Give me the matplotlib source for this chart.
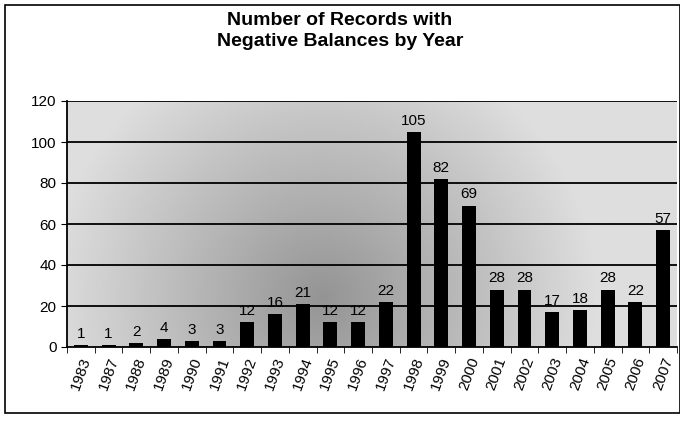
import matplotlib
matplotlib.use('Agg')
from matplotlib import pyplot as plt, patches
import numpy as np

plt.rcParams['font.family'] = ['Liberation Sans', 'DejaVu Sans']

years = ['1983', '1987', '1988', '1989', '1990', '1991', '1992', '1993', '1994', '1995', '1996',
         '1997', '1998', '1999', '2000', '2001', '2002', '2003', '2004', '2005', '2006', '2007']
counts = [1, 1, 2, 4, 3, 3, 12, 16, 21, 12, 12, 22, 105, 82, 69, 28, 28, 17, 18, 28, 22, 57]
yticks = [0, 20, 40, 60, 80, 100, 120]

fig = plt.figure(figsize=(6.8, 4.24), dpi=100)
fig.patch.set_facecolor('white')

# outer chart border
fig.add_artist(patches.Rectangle((5/680, 11/424), 675/680, 408/424, transform=fig.transFigure,
                                 fill=False, edgecolor='black', linewidth=1.2))

ax = fig.add_axes([67/680, 77/424, 610/680, 246/424])
x = np.arange(len(years))

# grey gradient background, darkest round the middle
gx, gy = np.meshgrid(np.linspace(0, 1, 300), np.linspace(0, 1, 150))
d = np.sqrt(((gx - 0.42) / 0.45) ** 2 + ((gy - 0.8) / 1.1) ** 2)
shade = 0.58 + 0.29 * np.clip(d, 0, 1)
ax.imshow(shade, cmap='gray', vmin=0, vmax=1, extent=(-0.5, len(years) - 0.5, 0, 120),
          aspect='auto', origin='upper', zorder=0)

for yv in yticks[1:]:
    ax.axhline(yv, color='black', linewidth=1.3, zorder=1)

ax.bar(x, counts, width=0.5, color='black', zorder=2)
for xi, c in zip(x, counts):
    ax.text(xi, c + 2, str(c), ha='center', va='bottom', fontsize=11, zorder=3)

ax.set_xlim(-0.5, len(years) - 0.5)
ax.set_ylim(0, 120)
ax.set_yticks(yticks)
ax.set_yticklabels([str(v) for v in yticks], fontsize=11)
ax.set_xticks(x)
ax.set_xticklabels(years, rotation=70, fontsize=11, ha='center', va='top')
ax.set_xticks(np.arange(-0.5, len(years), 1), minor=True)
ax.tick_params(axis='x', which='major', length=0, pad=6)
ax.tick_params(axis='x', which='minor', length=4, direction='out')
ax.tick_params(axis='y', length=4, direction='out')
ax.spines['top'].set_visible(False)
ax.spines['right'].set_visible(False)
ax.spines['left'].set_linewidth(1.3)
ax.spines['bottom'].set_linewidth(1.3)

fig.text(0.5, 0.972, 'Number of Records with\nNegative Balances by Year', ha='center', va='top',
         fontsize=14, fontweight='bold', linespacing=1.3)

fig.savefig('out.png', dpi=100)
